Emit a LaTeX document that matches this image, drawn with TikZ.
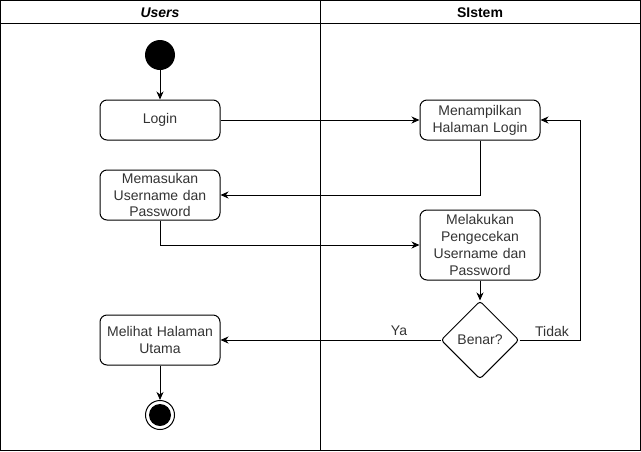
\documentclass[tikz,border=0pt]{standalone}
\usepackage{fontspec}
\setmainfont{Liberation Sans}
\usetikzlibrary{shapes.geometric,arrows.meta}
\definecolor{txt}{RGB}{51,51,51}
\tikzset{
  act/.style={draw=black, line width=1pt, rounded corners=7pt, minimum width=120pt, text width=116pt, align=center, inner sep=0pt, text=txt, font=\fontsize{14}{16.8}\selectfont},
  decis/.style={draw=black, line width=1pt, diamond, rounded corners=3pt, minimum width=78pt, minimum height=78pt, inner sep=0pt, text=txt, font=\fontsize{14}{16.8}\selectfont},
  flow/.style={draw=black, line width=1pt, -{Stealth[length=8pt,width=7pt,inset=2.5pt]}},
  lane/.style={draw=black, line width=1pt},
  head/.style={font=\fontsize{14}{16.8}\selectfont\bfseries, text=black, inner sep=0pt},
  lbl/.style={font=\fontsize{14}{16.8}\selectfont, text=txt, inner sep=0pt}
}
\begin{document}
\begin{tikzpicture}[x=1pt,y=-1pt]
\useasboundingbox (0,0) rectangle (641,451);
% swimlanes
\draw[lane] (0.5,0.5) rectangle (640.5,450.5);
\draw[lane] (0.5,23) -- (640.5,23);
\draw[lane] (320.5,0.5) -- (320.5,450.5);
\node[head] (hu) at (160,13) {\itshape Users};
\node[head] (hs) at (480,13) {SIstem};
% nodes
\node[circle, fill=black, minimum size=30pt, inner sep=0pt] (start) at (160,55) {};
\node[act, minimum height=40pt] (login) at (160,120) {Login};
\node[act, minimum height=40pt] (menamp) at (480,120) {Menampilkan\\Halaman Login};
\node[act, minimum height=50pt] (memas) at (160,195) {Memasukan\\Username dan\\Password};
\node[act, minimum height=70pt] (melak) at (480,245) {Melakukan\\Pengecekan\\Username dan\\Password};
\node[decis] (benar) at (480,340) {Benar?};
\node[act, minimum height=50pt] (melihat) at (160,340) {Melihat Halaman\\Utama};
\node[circle, draw=black, line width=1pt, fill=white, minimum size=29pt, inner sep=0pt] (end) at (160,415) {};
\fill[black] (end.center) circle (11pt);
% connectors
\draw[flow] (start) -- (login);
\draw[flow] (login) -- (menamp);
\draw[flow] (menamp.south) |- (memas.east);
\draw[flow] (memas.south) |- (melak.west);
\draw[flow] (melak) -- (benar);
\draw[flow] (benar.west) -- (melihat.east);
\node[lbl] (ya) at (399,331) {Ya};
\coordinate (tr) at (580,340);
\draw[flow] (benar.east) -- (tr) |- (menamp.east);
\node[lbl] (tidak) at (552,331) {Tidak};
\draw[flow] (melihat) -- (end);
\end{tikzpicture}
\end{document}
